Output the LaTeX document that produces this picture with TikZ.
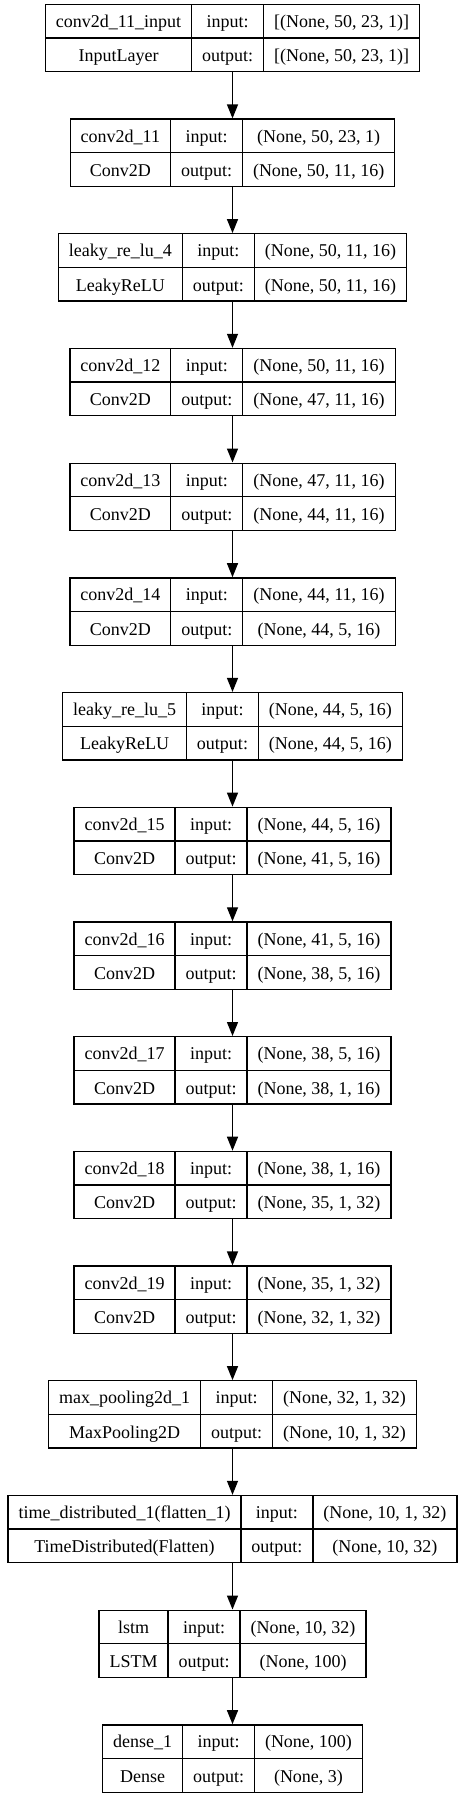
\documentclass[tikz,border=0pt]{standalone}
\usepackage{fontspec}
\setmainfont{Liberation Serif}
\usetikzlibrary{arrows.meta}
\setlength{\tabcolsep}{10.5pt}
\setlength{\arrayrulewidth}{1.3pt}
\renewcommand{\arraystretch}{1.5}
\newcommand{\layer}[5]{\begin{tabular}{c|c|c}#1 & input: & #3\\\hline #2 & output: & #4\end{tabular}}

\begin{document}
\begin{tikzpicture}[x=1pt, y=-114.7pt,
layer/.style = {rectangle, draw=black, line width=1.3pt, inner sep=0pt, font=\fontsize{18}{22}\selectfont},
flow/.style = {-{Triangle[width=11pt,length=14pt]}, line width=1.3pt}]
\useasboundingbox (0,-0.3313) rectangle (465,15.3356);
\node[layer] at (232.5,0) (in) {\layer{conv2d\_11\_input}{InputLayer}{[(None, 50, 23, 1)]}{[(None, 50, 23, 1)]}{}};
\node[layer] at (232.5,1) (c11) {\layer{conv2d\_11}{Conv2D}{(None, 50, 23, 1)}{(None, 50, 11, 16)}{}};
\node[layer] at (232.5,2) (lr4) {\layer{leaky\_re\_lu\_4}{LeakyReLU}{(None, 50, 11, 16)}{(None, 50, 11, 16)}{}};
\node[layer] at (232.5,3) (c12) {\layer{conv2d\_12}{Conv2D}{(None, 50, 11, 16)}{(None, 47, 11, 16)}{}};
\node[layer] at (232.5,4) (c13) {\layer{conv2d\_13}{Conv2D}{(None, 47, 11, 16)}{(None, 44, 11, 16)}{}};
\node[layer] at (232.5,5) (c14) {\layer{conv2d\_14}{Conv2D}{(None, 44, 11, 16)}{(None, 44, 5, 16)}{}};
\node[layer] at (232.5,6) (lr5) {\layer{leaky\_re\_lu\_5}{LeakyReLU}{(None, 44, 5, 16)}{(None, 44, 5, 16)}{}};
\node[layer] at (232.5,7) (c15) {\layer{conv2d\_15}{Conv2D}{(None, 44, 5, 16)}{(None, 41, 5, 16)}{}};
\node[layer] at (232.5,8) (c16) {\layer{conv2d\_16}{Conv2D}{(None, 41, 5, 16)}{(None, 38, 5, 16)}{}};
\node[layer] at (232.5,9) (c17) {\layer{conv2d\_17}{Conv2D}{(None, 38, 5, 16)}{(None, 38, 1, 16)}{}};
\node[layer] at (232.5,10) (c18) {\layer{conv2d\_18}{Conv2D}{(None, 38, 1, 16)}{(None, 35, 1, 32)}{}};
\node[layer] at (232.5,11) (c19) {\layer{conv2d\_19}{Conv2D}{(None, 35, 1, 32)}{(None, 32, 1, 32)}{}};
\node[layer] at (232.5,12) (mp) {\layer{max\_pooling2d\_1}{MaxPooling2D}{(None, 32, 1, 32)}{(None, 10, 1, 32)}{}};
\node[layer] at (232.5,13) (td) {\layer{time\_distributed\_1(flatten\_1)}{TimeDistributed(Flatten)}{(None, 10, 1, 32)}{(None, 10, 32)}{}};
\node[layer] at (232.5,14) (ls) {\layer{lstm}{LSTM}{(None, 10, 32)}{(None, 100)}{}};
\node[layer] at (232.5,15) (de) {\layer{dense\_1}{Dense}{(None, 100)}{(None, 3)}{}};
\draw [flow] (in) -- (c11);
\draw [flow] (c11) -- (lr4);
\draw [flow] (lr4) -- (c12);
\draw [flow] (c12) -- (c13);
\draw [flow] (c13) -- (c14);
\draw [flow] (c14) -- (lr5);
\draw [flow] (lr5) -- (c15);
\draw [flow] (c15) -- (c16);
\draw [flow] (c16) -- (c17);
\draw [flow] (c17) -- (c18);
\draw [flow] (c18) -- (c19);
\draw [flow] (c19) -- (mp);
\draw [flow] (mp) -- (td);
\draw [flow] (td) -- (ls);
\draw [flow] (ls) -- (de);
\end{tikzpicture}
\end{document}
